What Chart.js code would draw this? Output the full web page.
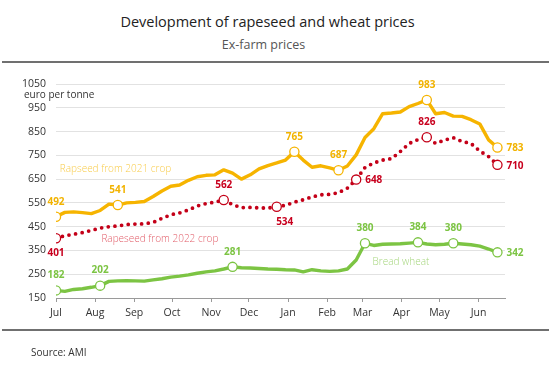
<!DOCTYPE html>
<html>
<head>
<meta charset="utf-8">
<script src="https://cdn.jsdelivr.net/npm/chart.js@4"></script>
<style>
  html, body { margin: 0; padding: 0; background: #fff; }
  #wrap { position: relative; width: 549px; height: 376px; font-family: "Open Sans", sans-serif; }
  #chart { position: absolute; left: 0; top: 0; }
  .title { position: absolute; left: 0; width: 535px; text-align: center; top: 12px; font-size: 14.5px; color: #222; }
  .subtitle { position: absolute; left: 0; width: 527px; text-align: center; top: 36px; font-size: 12.5px; color: #555; }
  .rule { position: absolute; left: 2px; right: 0; height: 1.5px; background: #707070; }
  .source { position: absolute; left: 31px; top: 345px; font-size: 10px; color: #333; }
</style>
</head>
<body>
<div id="wrap">
  <div class="title">Development of rapeseed and wheat prices</div>
  <div class="subtitle">Ex-farm prices</div>
  <div class="rule" style="top:61px"></div>
  <canvas id="chart" width="549" height="376"></canvas>
  <div class="rule" style="top:329px"></div>
  <div class="source">Source: AMI</div>
</div>
<script>
  // Wochenwerte ab 1. Juli (Tag 0), eine Notierung je Woche
  var monthLabels = ['Jul', 'Aug', 'Sep', 'Oct', 'Nov', 'Dec', 'Jan', 'Feb', 'Mar', 'Apr', 'May', 'Jun'];
  var monthStarts = [0, 31, 62, 92, 123, 153, 184, 215, 243, 274, 304, 335];

  var rapeseed2021 = [492, 510, 512, 509, 505, 518, 545, 541, 550, 552, 556, 577, 600, 620, 625, 645,
    660, 666, 668, 689, 675, 650, 668, 693, 707, 718, 730, 765, 730, 700, 706, 697, 687, 705, 752,
    825, 862, 925, 928, 932, 955, 968, 983, 925, 930, 915, 914, 900, 882, 815, 783];
  var rapeseed2022 = [401, 412, 418, 425, 434, 444, 450, 453, 459, 461, 462, 468, 485, 500, 508, 520,
    537, 547, 553, 562, 543, 530, 531, 529, 528, 534, 540, 553, 563, 575, 584, 586, 593, 612, 648,
    699, 718, 730, 736, 766, 800, 816, 826, 800, 814, 824, 808, 800, 768, 745, 710];
  var breadWheat = [182, 178, 186, 189, 195, 202, 220, 222, 223, 222, 221, 226, 231, 238, 242, 247,
    254, 260, 264, 272, 281, 277, 276, 274, 272, 271, 269, 268, 260, 269, 264, 262, 264, 272, 310,
    380, 371, 376, 377, 378, 381, 384, 377, 374, 376, 380, 377, 374, 368, 356, 342];

  // markierte Wochen und wo die Zahl steht
  var marks2021 = [[0, 'above'], [7, 'above'], [27, 'above'], [32, 'above'], [42, 'above'], [50, 'right']];
  var marks2022 = [[0, 'below'], [19, 'above'], [25, 'below'], [34, 'right'], [42, 'above'], [50, 'right']];
  var marksWheat = [[0, 'above'], [5, 'above'], [20, 'above'], [35, 'above'], [41, 'above'], [45, 'above'], [50, 'right']];

  var YELLOW = '#f6b400', RED = '#c40018', GREEN = '#7cc443';

  function toPoints(values) {
    return values.map(function (v, i) { return { x: i * 7, y: v }; });
  }
  function radii(values, marks) {
    var r = values.map(function () { return 0; });
    marks.forEach(function (m) { r[m[0]] = 4.6; });
    return r;
  }

  var series = [
    { data: rapeseed2021, marks: marks2021, color: YELLOW, text: '#f2b300',
      name: 'Rapseed from 2021 crop', nameColor: '#f8cc4c', nameAt: [3, 692] },
    { data: rapeseed2022, marks: marks2022, color: RED, text: '#c8001e',
      name: 'Rapeseed from 2022 crop', nameColor: '#e2606c', nameAt: [36, 398] },
    { data: breadWheat, marks: marksWheat, color: GREEN, text: '#7cc443',
      name: 'Bread wheat', nameColor: '#a6d67e', nameAt: [251, 301] }
  ];

  var labelsPlugin = {
    id: 'labels',
    afterDatasetsDraw: function (chart) {
      var ctx = chart.ctx, xs = chart.scales.x, ys = chart.scales.y;
      ctx.save();
      ctx.textBaseline = 'middle';
      series.forEach(function (s) {
        ctx.font = 'bold 10px "Open Sans"';
        ctx.fillStyle = s.text;
        s.marks.forEach(function (m) {
          var px = xs.getPixelForValue(m[0] * 7), py = ys.getPixelForValue(s.data[m[0]]);
          var txt = String(s.data[m[0]]);
          if (m[1] === 'above') { ctx.textAlign = 'center'; ctx.fillText(txt, px, py - 15); }
          else if (m[1] === 'below') { ctx.textAlign = 'center'; ctx.fillText(txt, px + (m[0] ? 8 : 0), py + 15); }
          else { ctx.textAlign = 'left'; ctx.fillText(txt, px + 9, py + 1); }
        });
        ctx.font = '300 10px "Open Sans"';
        ctx.fillStyle = s.nameColor;
        ctx.textAlign = 'left';
        ctx.fillText(s.name, xs.getPixelForValue(s.nameAt[0]), ys.getPixelForValue(s.nameAt[1]));
      });
      ctx.font = '10px "Open Sans"';
      ctx.fillStyle = '#333';
      ctx.textAlign = 'left';
      ctx.fillText('euro per tonne', 24, 95);
      ctx.restore();
    }
  };

  new Chart(document.getElementById('chart'), {
    type: 'line',
    data: {
      datasets: series.map(function (s, i) {
        return {
          data: toPoints(s.data),
          borderColor: s.color,
          borderWidth: i === 1 ? 3.8 : 3.4,
          borderDash: i === 1 ? [0, 6.7] : [],
          borderCapStyle: 'round',
          borderJoinStyle: 'round',
          tension: 0,
          pointRadius: radii(s.data, s.marks),
          pointBackgroundColor: '#fff',
          pointBorderColor: s.color,
          pointBorderWidth: 1.3
        };
      })
    },
    options: {
      responsive: false,
      animation: false,
      events: [],
      layout: { padding: { left: 0, right: 44, top: 84, bottom: 48 } },
      plugins: { legend: { display: false }, tooltip: { enabled: false } },
      scales: {
        x: {
          type: 'linear',
          min: 0,
          max: 356,
          afterBuildTicks: function (scale) {
            scale.ticks = monthStarts.map(function (d) { return { value: d }; });
          },
          afterFit: function (scale) { scale.height = 30; },
          grid: { drawOnChartArea: false, drawTicks: true, tickLength: 4, color: '#9a9a9a' },
          border: { display: true, color: '#9a9a9a', width: 1 },
          ticks: {
            autoSkip: false,
            maxRotation: 0,
            padding: 5,
            color: '#333',
            font: { family: 'Open Sans', size: 10.5 },
            callback: function (v, i) { return monthLabels[i]; }
          }
        },
        y: {
          min: 150,
          max: 1050,
          afterFit: function (scale) { scale.width = 56; },
          grid: { color: '#e2e2e2', drawTicks: false },
          border: { display: false },
          ticks: {
            stepSize: 100,
            padding: 10,
            color: '#333',
            font: { family: 'Open Sans', size: 10.5 },
            callback: function (v) { return String(v); }
          }
        }
      }
    },
    plugins: [labelsPlugin]
  });
</script>
</body>
</html>
